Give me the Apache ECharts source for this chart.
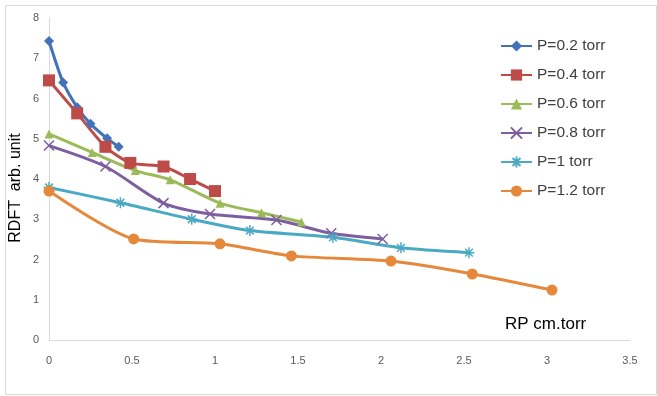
<!DOCTYPE html>
<html>
<head>
<meta charset="utf-8">
<script src="https://cdn.jsdelivr.net/npm/echarts@6/dist/echarts.min.js"></script>
<style>
  html, body { margin: 0; padding: 0; background: #fff; }
  #main { width: 657px; height: 396px; }
</style>
</head>
<body>
<div id="main"></div>
<script>
// values
var names = ['P=0.2 torr', 'P=0.4 torr', 'P=0.6 torr', 'P=0.8 torr', 'P=1 torr', 'P=1.2 torr'];

var x02 = [0, 0.085, 0.17, 0.25, 0.35, 0.42];
var y02 = [7.43, 6.40, 5.78, 5.37, 5.01, 4.80];

var x04 = [0, 0.17, 0.34, 0.49, 0.69, 0.85, 1.0];
var y04 = [6.45, 5.63, 4.80, 4.40, 4.31, 4.0, 3.70];

var x06 = [0, 0.26, 0.52, 0.73, 1.03, 1.28, 1.52];
var y06 = [5.12, 4.66, 4.21, 3.98, 3.40, 3.16, 2.93];

var x08 = [0, 0.34, 0.69, 0.97, 1.37, 1.70, 2.01];
var y08 = [4.83, 4.31, 3.40, 3.13, 2.98, 2.65, 2.51];

var x10 = [0, 0.43, 0.86, 1.21, 1.71, 2.12, 2.53];
var y10 = [3.79, 3.41, 3.0, 2.72, 2.55, 2.29, 2.17];

var x12 = [0, 0.51, 1.03, 1.46, 2.06, 2.55, 3.03];
var y12 = [3.70, 2.51, 2.39, 2.09, 1.96, 1.64, 1.24];

var xTicks = ['0', '0.5', '1', '1.5', '2', '2.5', '3', '3.5'];

var colors = ['#4472B8', '#BE4B48', '#9BBB59', '#7D5FA0', '#4AA9C3', '#E6883A'];

function pairs(xs, ys) {
  return xs.map(function (x, i) { return [x, ys[i]]; });
}

var crossPath = 'path://M0,0L10,10M10,0L0,10';
var starPath = 'path://M5,0L5,10M0,5L10,5M1.5,1.5L8.5,8.5M8.5,1.5L1.5,8.5';

var symbols = ['diamond', 'rect', 'triangle', crossPath, starPath, 'circle'];
var sizes = [10, 12, 9, 10, 11, 11];
var allX = [x02, x04, x06, x08, x10, x12];
var allY = [y02, y04, y06, y08, y10, y12];

var series = names.map(function (n, i) {
  var stroked = (i === 3 || i === 4);
  return {
    name: n,
    type: 'line',
    smooth: 0.25,
    data: pairs(allX[i], allY[i]),
    symbol: symbols[i],
    symbolSize: sizes[i],
    showAllSymbol: true,
    lineStyle: { width: 3, color: colors[i] },
    itemStyle: stroked
      ? { color: 'rgba(0,0,0,0)', borderColor: colors[i], borderWidth: 1.5 }
      : { color: colors[i], borderWidth: 0 }
  };
});

var font = 'Liberation Sans, Arial, sans-serif';
var myChart = echarts.init(document.getElementById('main'));

var option = {
  animation: false,
  textStyle: { fontFamily: font },
  grid: { left: 49, right: 27, top: 18, bottom: 56 },
  legend: {
    orient: 'vertical',
    left: 500,
    top: 38,
    padding: 0,
    itemWidth: 31,
    itemHeight: 14,
    itemGap: 13,
    textStyle: { fontSize: 15.5, lineHeight: 14, color: '#404040' },
    data: names
  },
  xAxis: {
    type: 'value',
    min: 0,
    max: 3.5,
    interval: 0.5,
    axisLine: { show: true, lineStyle: { color: '#d9d9d9', width: 1 } },
    axisTick: { show: false },
    splitLine: { show: false },
    axisLabel: {
      margin: 15,
      fontSize: 11,
      color: '#595959',
      formatter: function (v) { return xTicks[Math.round(v / 0.5)]; }
    }
  },
  yAxis: {
    type: 'value',
    min: 0,
    max: 8,
    interval: 1,
    axisLine: { show: true, lineStyle: { color: '#d9d9d9', width: 1 } },
    axisTick: { show: false },
    splitLine: { show: false },
    axisLabel: { margin: 10, fontSize: 11, color: '#595959' }
  },
  graphic: [
    {
      type: 'rect',
      left: 3, top: 3,
      shape: { width: 651, height: 389 },
      style: { fill: 'none', stroke: '#d9d9d9', lineWidth: 1 },
      silent: true
    },
    {
      type: 'text',
      x: 16, y: 188,
      rotation: Math.PI / 2,
      style: {
        text: 'RDFT  arb. unit', fontSize: 16, fill: '#000', fontFamily: font,
        textAlign: 'center', textVerticalAlign: 'middle'
      }
    },
    {
      type: 'text',
      left: 505, top: 316,
      style: { text: 'RP cm.torr', fontSize: 17, fill: '#000', fontFamily: font }
    }
  ],
  series: series
};

myChart.setOption(option);
</script>
</body>
</html>
